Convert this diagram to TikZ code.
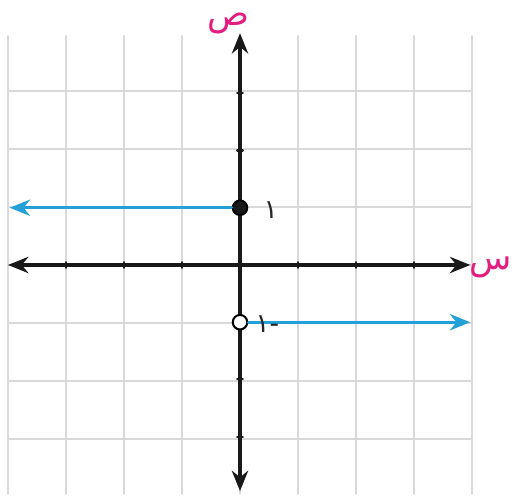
\documentclass[tikz,border=0pt]{standalone}
\usepackage{fontspec}
\newfontfamily\arabicfont[Script=Arabic]{DejaVu Sans}
\TeXXeTstate=1
\usetikzlibrary{arrows.meta}
\definecolor{rayo}{RGB}{35,160,215}
\definecolor{rosa}{RGB}{228,30,128}
\tikzset{
  punto/.style={circle, draw=black, line width=1pt, inner sep=0pt, minimum size=0.25cm},
  letra/.style={text=rosa, font=\arabicfont\fontsize{17}{19}\selectfont, inner sep=0pt},
  cifra/.style={text=black!85, font=\arabicfont\fontsize{13}{15}\selectfont, inner sep=0pt}
}
\begin{document}
\begin{tikzpicture}[x=1cm, y=0.987cm, line width=1.5pt, line cap=round,
    >={Stealth[length=10pt, width=8pt]}]
  \useasboundingbox (-4.138,-4.105) rectangle (4.776,4.629);
  % la cuadrícula
  \draw[black!15, line width=1pt] (-4,-4) grid (4,4);
  % los ejes y sus marcas
  \coordinate (xizq) at (-4,0);
  \coordinate (xder) at (3.97,0);
  \coordinate (yabajo) at (0,-3.95);
  \coordinate (yarriba) at (0,4.05);
  \draw[black!90, <->] (xizq) -- (xder);
  \draw[black!90, <->] (yabajo) -- (yarriba);
  \foreach \i in {-3,...,3} {
    \draw[black!90, line width=1pt] (\i,-0.05) -- (\i,0.05);
    \draw[black!90, line width=1pt] (-0.05,\i) -- (0.05,\i);
  }
  \node[letra] (ejex) at (4.33,-0.04) {س};
  \node[letra, text height=1.6ex, text depth=0.6ex] (ejey) at (-0.2,4.26) {ص};
  % los puntos, lleno y hueco
  \node[punto, fill=black!90] (lleno) at (0,1) {};
  \node[punto, fill=white] (hueco) at (0,-1) {};
  % los rayos
  \coordinate (finizq) at (-3.97,1);
  \coordinate (finder) at (3.97,-1);
  \draw[rayo, ->] (lleno) -- (finizq);
  \draw[rayo, ->] (hueco) -- (finder);
  \node[cifra] (uno) at (0.53,0.96) {١};
  \node[cifra] (menosuno) at (0.47,-1.03) {\beginR -١\endR};
\end{tikzpicture}
\end{document}
